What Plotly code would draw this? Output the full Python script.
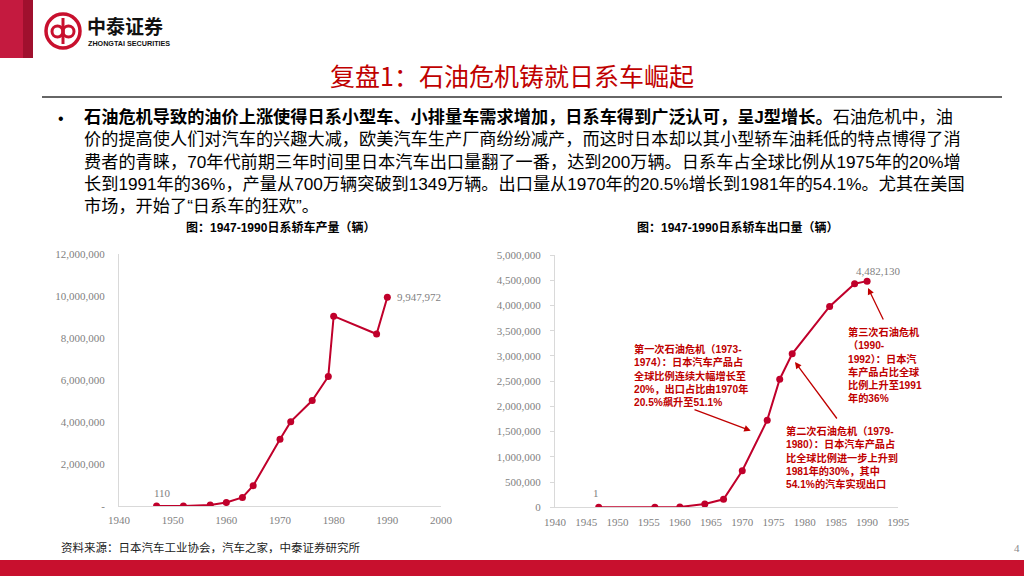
import plotly.graph_objects as go

# ---------------- data ----------------
prod_years = [1947, 1952, 1957, 1960, 1963, 1965, 1970, 1972, 1976, 1979, 1980, 1988, 1990]
prod_vals = [110, 4837, 47121, 165094, 407830, 970000, 3178708, 4022289, 5027792, 6175771, 9050000, 8198400, 9947972]
prod_yticks = [0, 2000000, 4000000, 6000000, 8000000, 10000000, 12000000]
prod_ytext = ["-", "2,000,000", "4,000,000", "6,000,000", "8,000,000", "10,000,000", "12,000,000"]
prod_xticks = [1940, 1950, 1960, 1970, 1980, 1990, 2000]

exp_years = [1947, 1956, 1960, 1964, 1967, 1970, 1974, 1976, 1978, 1984, 1988, 1990]
exp_vals = [1, 46, 7013, 66965, 157882, 725586, 1727396, 2538919, 3042237, 3980000, 4430000, 4482130]
exp_yticks = [0, 500000, 1000000, 1500000, 2000000, 2500000, 3000000, 3500000, 4000000, 4500000, 5000000]
exp_ytext = ["0", "500,000", "1,000,000", "1,500,000", "2,000,000", "2,500,000", "3,000,000",
             "3,500,000", "4,000,000", "4,500,000", "5,000,000"]
exp_xticks = [1940, 1945, 1950, 1955, 1960, 1965, 1970, 1975, 1980, 1985, 1990, 1995]

title_text = "复盘1：石油危机铸就日系车崛起"
body_bold = "石油危机导致的油价上涨使得日系小型车、小排量车需求增加，日系车得到广泛认可，呈J型增长。"
body_lines = [
    "石油危机中，油",
    "价的提高使人们对汽车的兴趣大减，欧美汽车生产厂商纷纷减产，而这时日本却以其小型轿车油耗低的特点博得了消",
    "费者的青睐，70年代前期三年时间里日本汽车出口量翻了一番，达到200万辆。日系车占全球比例从1975年的20%增",
    "长到1991年的36%，产量从700万辆突破到1349万辆。出口量从1970年的20.5%增长到1981年的54.1%。尤其在美国",
    "市场，开始了“日系车的狂欢”。",
]
left_title = "图：1947-1990日系轿车产量（辆）"
right_title = "图：1947-1990日系轿车出口量（辆）"
note1 = ["第一次石油危机（1973-", "1974）：日本汽车产品占", "全球比例连续大幅增长至", "20%，出口占比由1970年", "20.5%飙升至51.1%"]
note2 = ["第二次石油危机（1979-", "1980）：日本汽车产品占", "比全球比例进一步上升到", "1981年的30%，其中", "54.1%的汽车实现出口"]
note3 = ["第三次石油危机", "（1990-", "1992）：日本汽", "车产品占比全球", "比例上升至1991", "年的36%"]
source_text = "资料来源：日本汽车工业协会，汽车之家，中泰证券研究所"

# ---------------- styles ----------------
W, H = 1024, 576
RED = "#C00000"
LINE_RED = "#C0002B"
GRAY_AX = "#D9D9D9"
TICK_FONT = dict(family="Liberation Serif", size=11, color="#7F7F7F")
CJK = "Noto Sans CJK SC"
MIX = "Liberation Sans, Noto Sans CJK SC"


def px(x):
    return x / W


def py(y):
    return 1 - y / H


fig = go.Figure()

fig.add_trace(go.Scatter(x=prod_years, y=prod_vals, mode="lines+markers",
                         line=dict(color=LINE_RED, width=2),
                         marker=dict(color=LINE_RED, size=7),
                         xaxis="x", yaxis="y", showlegend=False, hoverinfo="skip"))
fig.add_trace(go.Scatter(x=exp_years, y=exp_vals, mode="lines+markers",
                         line=dict(color=LINE_RED, width=2),
                         marker=dict(color=LINE_RED, size=7),
                         xaxis="x2", yaxis="y2", showlegend=False, hoverinfo="skip"))

axis_common = dict(showgrid=False, zeroline=False, showline=True, linecolor=GRAY_AX,
                   linewidth=1, tickfont=TICK_FONT, fixedrange=True, automargin=False)

fig.update_layout(
    width=W, height=H, margin=dict(l=0, r=0, t=0, b=0, pad=0), autosize=False,
    paper_bgcolor="white", plot_bgcolor="white", showlegend=False,
    xaxis=dict(domain=[px(119), px(441)], range=[1940, 2000], anchor="y",
               tickvals=prod_xticks, ticks="", ticklabelstandoff=4, **axis_common),
    yaxis=dict(domain=[py(506), py(254.3)], range=[0, 12000000], anchor="x",
               tickvals=prod_yticks, ticktext=prod_ytext, ticks="", ticklabelstandoff=11,
               **axis_common),
    xaxis2=dict(domain=[px(555), px(898.3)], range=[1940, 1995], anchor="y2",
                tickvals=exp_xticks, ticks="", ticklabelstandoff=4, **axis_common),
    yaxis2=dict(domain=[py(507.3), py(255)], range=[0, 5000000], anchor="x2",
                tickvals=exp_yticks, ticktext=exp_ytext, ticks="outside", ticklen=4,
                tickcolor=GRAY_AX, ticklabelstandoff=7, **axis_common),
)

shapes = []
# top-left red bars
shapes.append(dict(type="rect", xref="paper", yref="paper", x0=0, x1=px(23), y0=py(58), y1=1,
                   fillcolor="#C41A3F", line=dict(width=0)))
shapes.append(dict(type="rect", xref="paper", yref="paper", x0=px(23), x1=px(33), y0=py(58), y1=1,
                   fillcolor="#A0102E", line=dict(width=0)))
# logo ring
shapes.append(dict(type="circle", xref="paper", yref="paper", x0=px(46), x1=px(80), y0=py(48), y1=py(14),
                   line=dict(color="#C8102E", width=3.5), fillcolor="white"))
shapes.append(dict(type="circle", xref="paper", yref="paper", x0=px(52), x1=px(63), y0=py(37), y1=py(26),
                   line=dict(color="#C8102E", width=3)))
shapes.append(dict(type="circle", xref="paper", yref="paper", x0=px(63), x1=px(74), y0=py(37), y1=py(26),
                   line=dict(color="#C8102E", width=3)))
shapes.append(dict(type="line", xref="paper", yref="paper", x0=px(63), x1=px(63), y0=py(44), y1=py(18),
                   line=dict(color="#C8102E", width=3)))
# title underline
shapes.append(dict(type="line", xref="paper", yref="paper", x0=px(42), x1=px(1002), y0=py(97), y1=py(97),
                   line=dict(color="#333333", width=1.5)))
# footer bar
shapes.append(dict(type="rect", xref="paper", yref="paper", x0=0, x1=1, y0=0, y1=py(560),
                   fillcolor="#C8102E", line=dict(width=0)))
fig.update_layout(shapes=shapes)

ann = []


def txt(x, y, text, size, color="#000000", family=CJK, xanchor="left", yanchor="middle", bold=False):
    t = f"<b>{text}</b>" if bold else text
    ann.append(dict(xref="paper", yref="paper", x=px(x), y=py(y), text=t, showarrow=False,
                    xanchor=xanchor, yanchor=yanchor, align="left", borderpad=0,
                    font=dict(family=family, size=size, color=color)))


# logo text
txt(86, 25, "中泰证券", 19, color="#111111", bold=True)
txt(87, 43, "ZHONGTAI SECURITIES", 7.2, color="#111111", family="Liberation Sans", bold=True)

# title
txt(512, 75, title_text, 25, color=RED, xanchor="center")

# body (one block, five lines)
txt(57, 118, "•", 16, family="Liberation Sans")
body_html = "<br>".join([f"<b>{body_bold}</b>{body_lines[0]}"] + body_lines[1:])
txt(83, 161.5, body_html, 17.2, family=MIX)

# chart titles
txt(280, 228, left_title, 12, bold=True, xanchor="center", family=MIX)
txt(737, 228, right_title, 12, bold=True, xanchor="center", family=MIX)

# data labels
ann.append(dict(xref="x", yref="y", x=prod_years[0], y=prod_vals[0], text="110", showarrow=False,
                xshift=6, yshift=13, font=TICK_FONT))
ann.append(dict(xref="x", yref="y", x=prod_years[-1], y=prod_vals[-1], text="9,947,972", showarrow=False,
                xanchor="left", xshift=8, font=TICK_FONT))
ann.append(dict(xref="x2", yref="y2", x=exp_years[0], y=exp_vals[0], text="1", showarrow=False,
                xshift=-3, yshift=14, font=TICK_FONT))
ann.append(dict(xref="x2", yref="y2", x=exp_years[-1], y=exp_vals[-1], text="4,482,130", showarrow=False,
                xshift=11, yshift=10, font=TICK_FONT))

# callout notes (each one block)
for lines, x0, yc in [(note1, 633, 375.6), (note2, 785, 457), (note3, 847, 364.5)]:
    txt(x0, yc, "<br>".join(lines), 10.2, color=RED, bold=True, family=MIX)

# arrows (head, tail)
for hx, hy, tx, ty in [(750.7, 430.7, 693, 409), (795, 362, 838, 420), (868, 288, 884, 321)]:
    ann.append(dict(xref="paper", yref="paper", x=px(hx), y=py(hy), text="", showarrow=True,
                    axref="pixel", ayref="pixel", ax=tx - hx, ay=ty - hy,
                    arrowhead=2, arrowsize=1, arrowwidth=1.3, arrowcolor=RED))

# footer
txt(60, 547, source_text, 11.5, color="#222222")
txt(1017, 548, "4", 11, color="#888888", family="Liberation Serif", xanchor="center")

fig.update_layout(annotations=ann)

fig.write_html("out.html", config={"displayModeBar": False},
               post_script="document.body.style.margin='0';document.body.style.overflow='hidden';")
